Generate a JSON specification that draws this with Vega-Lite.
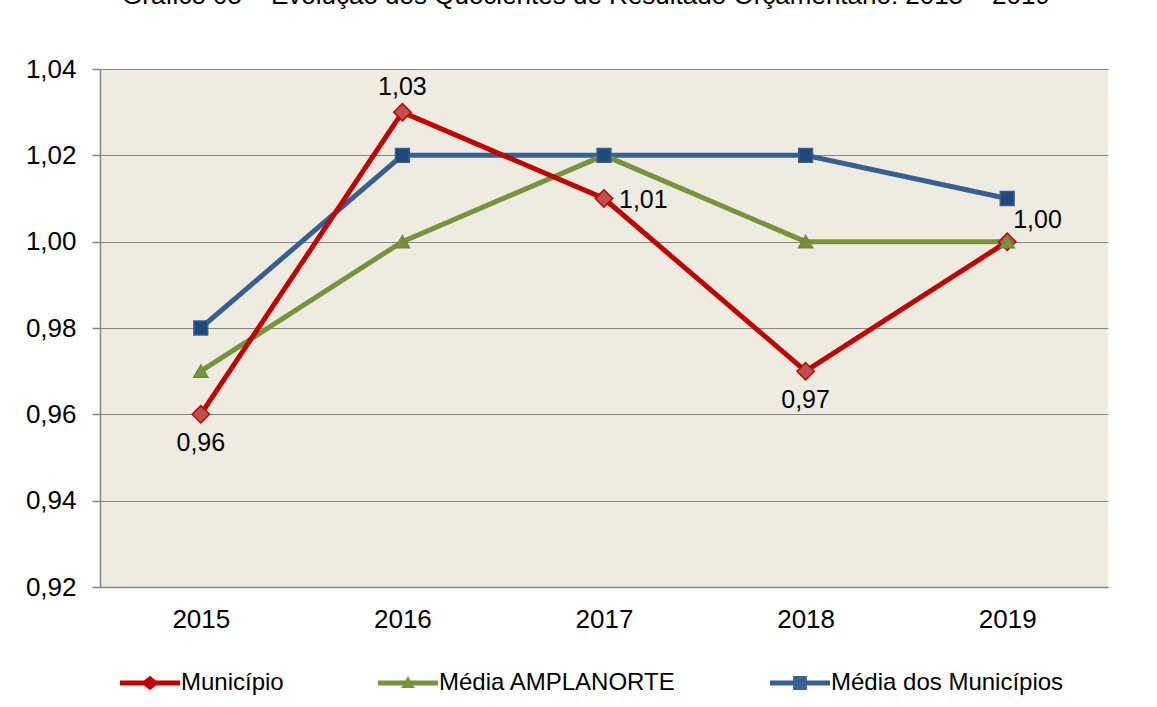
{
  "$schema": "https://vega.github.io/schema/vega-lite/v6.json",
  "width": 1008,
  "height": 518,
  "autosize": {"type": "none"},
  "padding": {"left": 100, "top": 69, "right": 49, "bottom": 120},
  "background": "white",
  "title": {
    "text": "Gráfico 05 – Evolução dos Quocientes de Resultado Orçamentário: 2015 – 2019",
    "frame": "group",
    "anchor": "middle",
    "dx": -18,
    "offset": 47,
    "font": "Liberation Sans",
    "fontSize": 26,
    "fontWeight": "normal",
    "color": "black"
  },
  "data": {
    "values": [
      {"ano": "2015", "serie": "Média dos Municípios", "valor": 0.98},
      {"ano": "2016", "serie": "Média dos Municípios", "valor": 1.02},
      {"ano": "2017", "serie": "Média dos Municípios", "valor": 1.02},
      {"ano": "2018", "serie": "Média dos Municípios", "valor": 1.02},
      {"ano": "2019", "serie": "Média dos Municípios", "valor": 1.01},
      {"ano": "2015", "serie": "Média AMPLANORTE", "valor": 0.97},
      {"ano": "2016", "serie": "Média AMPLANORTE", "valor": 1.00},
      {"ano": "2017", "serie": "Média AMPLANORTE", "valor": 1.02},
      {"ano": "2018", "serie": "Média AMPLANORTE", "valor": 1.00},
      {"ano": "2019", "serie": "Média AMPLANORTE", "valor": 1.00},
      {"ano": "2015", "serie": "Município", "valor": 0.96},
      {"ano": "2016", "serie": "Município", "valor": 1.03},
      {"ano": "2017", "serie": "Município", "valor": 1.01},
      {"ano": "2018", "serie": "Município", "valor": 0.97},
      {"ano": "2019", "serie": "Município", "valor": 1.00}
    ]
  },
  "encoding": {
    "x": {
      "field": "ano",
      "type": "ordinal",
      "scale": {"type": "point", "padding": 0.5},
      "axis": {
        "title": null,
        "labelAngle": 0,
        "labelFontSize": 26,
        "labelFont": "Liberation Sans",
        "labelColor": "black",
        "tickSize": 0,
        "labelPadding": 19,
        "domainColor": "#868686",
        "domainWidth": 1.5,
        "grid": false
      }
    },
    "y": {
      "field": "valor",
      "type": "quantitative",
      "scale": {"domain": [0.92, 1.04], "nice": false, "zero": false},
      "axis": {
        "title": null,
        "values": [0.92, 0.94, 0.96, 0.98, 1.0, 1.02, 1.04],
        "format": ".2f",
        "labelFontSize": 26,
        "labelFont": "Liberation Sans",
        "labelColor": "black",
        "tickSize": 8,
        "tickColor": "#868686",
        "tickWidth": 1.5,
        "labelPadding": 16,
        "domainColor": "#868686",
        "domainWidth": 1.5,
        "gridColor": "#868686",
        "gridWidth": 1.2
      }
    }
  },
  "layer": [
    {
      "mark": {"type": "line", "strokeWidth": 5},
      "encoding": {
        "color": {
          "field": "serie",
          "type": "nominal",
          "scale": {
            "domain": ["Município", "Média AMPLANORTE", "Média dos Municípios"],
            "range": ["#C00000", "#77933C", "#376092"]
          },
          "legend": {
            "orient": "none",
            "legendX": 20,
            "legendY": 584,
            "direction": "horizontal",
            "title": null,
            "padding": 0,
            "columnPadding": 94,
            "labelFontSize": 24,
            "labelFont": "Liberation Sans",
            "labelColor": "black",
            "labelLimit": 400,
            "labelOffset": 1,
            "symbolSize": 3600,
            "symbolStrokeWidth": 0,
            "symbolOpacity": 1,
            "encode": {
              "symbols": {
                "update": {
                  "shape": {"signal": "datum.value === 'Município' ? 'M-1,-0.083H-0.2L0,-0.24L0.2,-0.083H1V0.083H0.2L0,0.24L-0.2,0.083H-1Z' : datum.value === 'Média AMPLANORTE' ? 'M-1,-0.083H-0.085L0,-0.23L0.085,-0.083H1V0.083H0.18L0.23,0.17H-0.23L-0.18,0.083H-1Z' : 'M-1,-0.083H-0.23V-0.23H0.23V-0.083H1V0.083H0.23V0.23H-0.23V0.083H-1Z'"},
                  "fill": {"scale": "color", "field": "value"},
                  "stroke": {"value": "transparent"},
                  "strokeWidth": {"value": 0},
                  "opacity": {"value": 1},
                  "size": {"value": 3600}
                }
              }
            }
          }
        }
      }
    },
    {
      "transform": [{"filter": "datum.serie === 'Município'"}],
      "mark": {"type": "point", "shape": "diamond", "filled": true, "opacity": 1, "size": 300, "fill": "#C0504D", "stroke": "#C00000", "strokeWidth": 1.5}
    },
    {
      "transform": [{"filter": "datum.serie === 'Média AMPLANORTE'"}],
      "mark": {"type": "point", "shape": "triangle-up", "filled": true, "opacity": 1, "size": 200, "fill": "#77933C", "stroke": "#71893F", "strokeWidth": 1.5}
    },
    {
      "transform": [{"filter": "datum.serie === 'Média dos Municípios'"}],
      "mark": {"type": "point", "shape": "square", "filled": true, "opacity": 1, "size": 190, "fill": "#1F497D", "stroke": "#385D8A", "strokeWidth": 1.5}
    },
    {
      "transform": [{"filter": "datum.serie === 'Município' && (datum.ano === '2015' || datum.ano === '2018')"}],
      "mark": {"type": "text", "dy": 29, "fontSize": 25, "font": "Liberation Sans", "color": "black", "align": "center", "baseline": "middle"},
      "encoding": {"text": {"field": "valor", "type": "quantitative", "format": ".2f"}}
    },
    {
      "transform": [{"filter": "datum.serie === 'Município' && datum.ano === '2016'"}],
      "mark": {"type": "text", "dy": -25, "fontSize": 25, "font": "Liberation Sans", "color": "black", "align": "center", "baseline": "middle"},
      "encoding": {"text": {"field": "valor", "type": "quantitative", "format": ".2f"}}
    },
    {
      "transform": [{"filter": "datum.serie === 'Município' && datum.ano === '2017'"}],
      "mark": {"type": "text", "dx": 15, "dy": 1, "fontSize": 25, "font": "Liberation Sans", "color": "black", "align": "left", "baseline": "middle"},
      "encoding": {"text": {"field": "valor", "type": "quantitative", "format": ".2f"}}
    },
    {
      "transform": [{"filter": "datum.serie === 'Município' && datum.ano === '2019'"}],
      "mark": {"type": "text", "dx": 6, "dy": -22, "fontSize": 25, "font": "Liberation Sans", "color": "black", "align": "left", "baseline": "middle"},
      "encoding": {"text": {"field": "valor", "type": "quantitative", "format": ".2f"}}
    }
  ],
  "config": {
    "locale": {"number": {"decimal": ",", "thousands": ".", "grouping": [3], "currency": ["R$", ""]}},
    "view": {"stroke": null, "fill": "#EEECE1"},
    "font": "Liberation Sans"
  }
}
